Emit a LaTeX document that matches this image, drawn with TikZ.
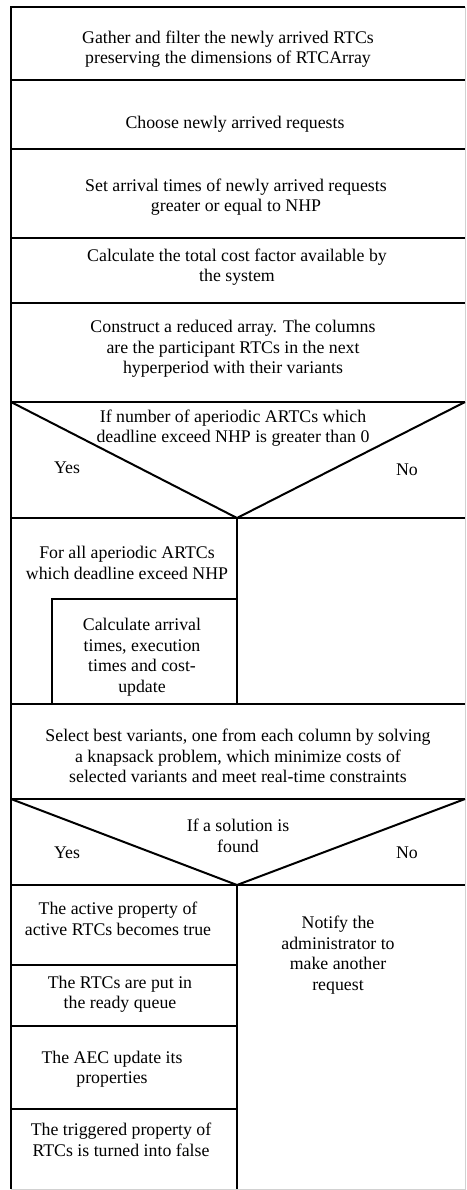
\documentclass[tikz,border=0pt]{standalone}
\usepackage{fontspec}
\setmainfont{Liberation Serif}
\begin{document}
\begin{tikzpicture}[x=1pt,y=-1pt,
  ln/.style={line width=2pt, black},
  faint/.style={line width=0.8pt, black!18},
  txt/.style={align=center, font=\fontsize{17.8}{20.5}\selectfont, inner sep=0pt}]
\useasboundingbox (0,0) rectangle (466,1190);
\def\L{11}\def\R{465}\def\M{237}
% outer frame
\draw[faint] (\R,7) -- (\R,1189) -- (\L,1189);
\draw[ln] (\R,7) -- (\L,7) -- (\L,1189);
% full-width separators
\foreach \y in {80,149,238,303,402,518,704,799,885}
  \draw[ln] (\L,\y) -- (\R,\y);
% decision 1
\draw[ln] (\L,402) -- (\M,518) -- (\R,402);
% yes branch loop
\draw[ln] (\M,518) -- (\M,704);
\draw[ln] (\M,599) -- (52,599) -- (52,704);
% decision 2
\draw[ln] (\L,799) -- (\M,885) -- (\R,799);
\draw[ln] (\M,885) -- (\M,1189);
\foreach \y in {965,1026,1109}
  \draw[ln] (\L,\y) -- (\M,\y);
% texts
\node[txt] (t1) at (228,49) {Gather and filter the newly arrived RTCs\\preserving the dimensions of RTCArray};
\node[txt] (t2) at (235,124) {Choose newly arrived requests};
\node[txt] (t3) at (236,197) {Set arrival times of newly arrived requests\\greater or equal to NHP};
\node[txt] (t4) at (237,267) {Calculate the total cost factor available by\\the system};
\node[txt] (t5) at (233,349) {Construct a reduced array. The columns\\are the participant RTCs in the next\\hyperperiod with their variants};
\node[txt] (c1) at (233,428) {If number of aperiodic ARTCs which\\deadline exceed NHP is greater than 0};
\node[txt] (y1) at (67,468) {Yes};
\node[txt] (n1) at (407,470) {No};
\node[txt] (f1) at (127,563) {For all aperiodic ARTCs\\which deadline exceed NHP};
\node[txt] (f2) at (142,657) {Calculate arrival\\times, execution\\times and cost-\\update};
\node[txt] (t6) at (238,756) {Select best variants, one from each column by solving\\a knapsack problem, which minimize costs of\\selected variants and meet real-time constraints};
\node[txt] (c2) at (238,836) {If a solution is\\found};
\node[txt] (y2) at (67,853) {Yes};
\node[txt] (n2) at (407,853) {No};
\node[txt] (a1) at (118,919) {The active property of\\active RTCs becomes true};
\node[txt] (a2) at (120,994) {The RTCs are put in\\the ready queue};
\node[txt] (a3) at (112,1069) {The AEC update its\\properties};
\node[txt] (a4) at (121,1140) {The triggered property of\\RTCs is turned into false};
\node[txt] (b1) at (338,955) {Notify the\\administrator to\\make another\\request};
\end{tikzpicture}
\end{document}
